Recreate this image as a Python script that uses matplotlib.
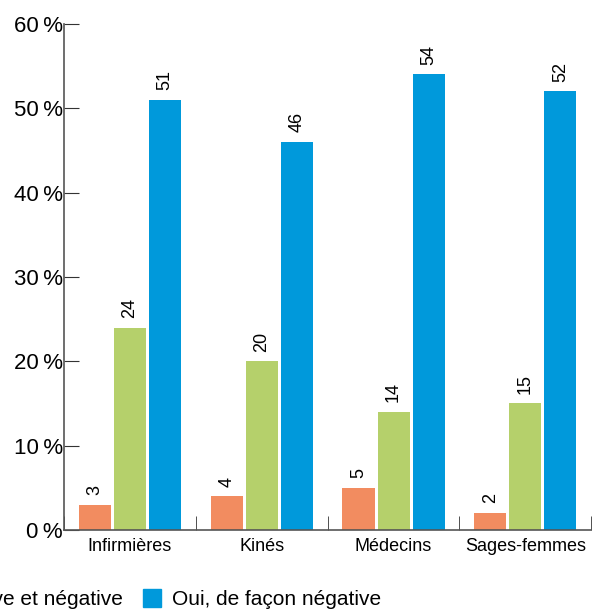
import numpy as np
import matplotlib
matplotlib.use('Agg')
import matplotlib.pyplot as plt
from matplotlib.patches import Patch

plt.rcParams['font.family'] = ['Liberation Sans', 'DejaVu Sans']

categories = ['Infirmières', 'Kinés', 'Médecins', 'Sages-femmes']
series_names = ['Oui, de façon positive',
                'Oui, de façon positive et négative',
                'Oui, de façon négative']
positive = [3, 4, 5, 2]
mixed = [24, 20, 14, 15]
negative = [51, 46, 54, 52]
colors = ['#F28C60', '#B5D06B', '#0099DB']
yticks = [0, 10, 20, 30, 40, 50, 60]

fig = plt.figure(figsize=(5.99, 6.12), dpi=100)
ax = fig.add_axes([0.107, 0.134, 0.880, 0.827])

x = np.arange(len(categories))
width = 0.243
step = 0.266
for i, (vals, col) in enumerate(zip([positive, mixed, negative], colors)):
    bars = ax.bar(x + (i - 1) * step, vals, width, color=col)
    ax.bar_label(bars, labels=[str(v) for v in vals], rotation=90,
                 padding=7, fontsize=13)

ax.set_xlim(-0.5, len(categories) - 0.5)
ax.set_ylim(0, 60)
ax.set_yticks(yticks)
ax.set_yticklabels(['{}\u2009%'.format(t) for t in yticks], fontsize=16)
ax.tick_params(axis='y', direction='in', length=11, pad=1, color='#333333')

ax.set_xticks(x)
ax.set_xticklabels(categories, fontsize=13)
ax.set_xticks(np.arange(len(categories) + 1) - 0.5, minor=True)
ax.tick_params(axis='x', which='major', length=0, pad=6)
ax.tick_params(axis='x', which='minor', direction='in', length=10, color='#333333')

for s in ['top', 'right']:
    ax.spines[s].set_visible(False)
for s in ['left', 'bottom']:
    ax.spines[s].set_color('#555555')
    ax.spines[s].set_linewidth(1.2)

handles = [Patch(color=c) for c in colors]
fig.legend(handles, series_names, ncol=3, loc='center right',
           bbox_to_anchor=(0.636, 0.021), frameon=False, fontsize=15,
           borderpad=0, borderaxespad=0, handlelength=0.9, handleheight=0.9,
           handletextpad=0.5, columnspacing=0.95)

fig.savefig('out.png', dpi=100)
